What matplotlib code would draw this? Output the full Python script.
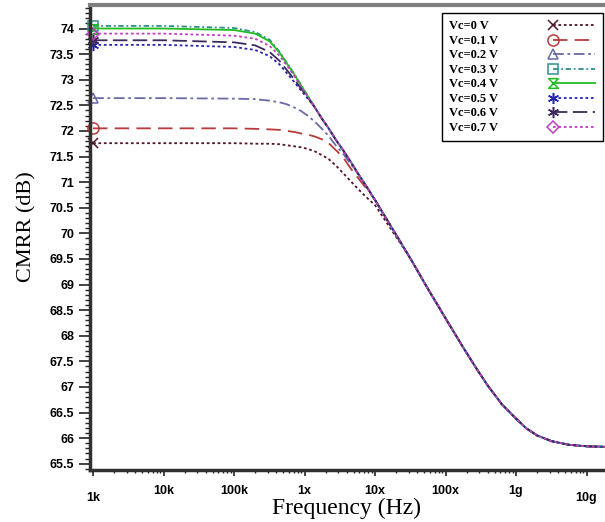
import matplotlib
matplotlib.use('Agg')
import matplotlib.pyplot as plt
from matplotlib.lines import Line2D
from matplotlib.path import Path
from matplotlib.legend_handler import HandlerLine2D
from matplotlib.font_manager import FontProperties
from matplotlib.ticker import FixedLocator, LogLocator, MultipleLocator, NullFormatter

# ---------------- data ----------------
freq_hz = [1e3, 1e4, 1e5, 2e5, 3.2e5, 4.4e5, 5.6e5, 7.1e5, 8.9e5, 1.1e6,
           1.4e6, 1.8e6, 2.2e6, 2.8e6, 3.5e6, 4.5e6, 5.9e6, 7.6e6, 1e7, 1.8e7,
           3.2e7, 5.6e7, 1e8, 1.8e8, 2.8e8, 4e8, 6.3e8, 1e9, 1.4e9, 2e9,
           3.2e9, 5.6e9, 1e10, 1.8e10]

# shared high-frequency part (from the 11th frequency point onwards)
tail_db = [72.46, 72.22, 72.05, 71.82, 71.63, 71.40, 71.14, 70.91, 70.65, 70.07,
           69.50, 68.92, 68.34, 67.76, 67.34, 67.02, 66.66, 66.38, 66.19, 66.05,
           65.94, 65.87, 65.84, 65.83]
TAIL_START = 10

head_vc00 = [71.76, 71.76, 71.76, 71.75, 71.75, 71.74, 71.72, 71.70, 71.68, 71.65,
             71.60, 71.52, 71.45, 71.32, 71.18, 71.02, 70.85, 70.70, 70.55, 70.02]
head_vc01 = [72.05, 72.05, 72.05, 72.04, 72.03, 72.02, 72.00, 71.98, 71.95, 71.93,
             71.89, 71.83, 71.76, 71.62, 71.49, 71.27, 71.06, 70.87]
head_vc02 = [72.64, 72.64, 72.63, 72.62, 72.59, 72.56, 72.52, 72.46, 72.39, 72.30,
             72.18, 72.03, 71.90, 71.71, 71.56, 71.36]
head_vc03 = [74.05, 74.05, 74.01, 73.93, 73.78, 73.55, 73.33, 73.12, 72.90, 72.69]
head_vc04 = [74.00, 74.00, 73.97, 73.90, 73.75, 73.53, 73.32, 73.11, 72.89, 72.69]
head_vc05 = [73.68, 73.68, 73.64, 73.58, 73.46, 73.30, 73.13, 72.96, 72.79, 72.64]
head_vc06 = [73.77, 73.77, 73.73, 73.67, 73.54, 73.37, 73.19, 73.01, 72.83, 72.66]
head_vc07 = [73.90, 73.90, 73.86, 73.80, 73.66, 73.47, 73.28, 73.08, 72.87, 72.68]

labels = ['Vc=0 V', 'Vc=0.1 V', 'Vc=0.2 V', 'Vc=0.3 V',
          'Vc=0.4 V', 'Vc=0.5 V', 'Vc=0.6 V', 'Vc=0.7 V']
heads = [head_vc00, head_vc01, head_vc02, head_vc03,
         head_vc04, head_vc05, head_vc06, head_vc07]

x_tick_vals = [1e3, 1e4, 1e5, 1e6, 1e7, 1e8, 1e9, 1e10]
x_tick_labels = ['1k', '10k', '100k', '1x', '10x', '100x', '1g', '10g']
y_tick_vals = [65.5, 66, 66.5, 67, 67.5, 68, 68.5, 69, 69.5, 70, 70.5,
               71, 71.5, 72, 72.5, 73, 73.5, 74]


def full_series(head):
    return head + tail_db[len(head) - TAIL_START:]


# ---------------- styles ----------------
hourglass = Path([(-1, 1), (1, 1), (-1, -1), (1, -1), (-1, 1)],
                 [Path.MOVETO, Path.LINETO, Path.LINETO, Path.LINETO, Path.CLOSEPOLY])

styles = [
    dict(color='#4f1428', ls=(0, (1.5, 1.5)), marker='x', ms=7),
    dict(color='#b83a3a', ls=(0, (8, 4)), marker='o', ms=8),
    dict(color='#6a6aa8', ls=(0, (6, 2, 1.5, 2)), marker='^', ms=7),
    dict(color='#2f8f8f', ls=(0, (3, 1.5, 1, 1.5)), marker='s', ms=7),
    dict(color='#22bb22', ls='-', marker=hourglass, ms=7),
    dict(color='#2424b0', ls=(0, (1.5, 1.5)), marker=(6, 2, 0), ms=8),
    dict(color='#3c2a5e', ls=(0, (8, 3)), marker=(6, 2, 0), ms=8),
    dict(color='#c23cc2', ls=(0, (1.5, 1.5)), marker='D', ms=6),
]

# ---------------- figure ----------------
W, H = 605, 522
fig = plt.figure(figsize=(W / 100, H / 100), dpi=100)
ax = fig.add_axes([90 / W, (H - 470) / H, (W - 90) / W, 465 / H])

for head, lab, st in zip(heads, labels, styles):
    ax.plot(freq_hz, full_series(head), color=st['color'], linestyle=st['ls'],
            linewidth=1.3, marker=st['marker'], markersize=st['ms'],
            markevery=[0], markerfacecolor='none', markeredgecolor=st['color'],
            markeredgewidth=1.1, label=lab, clip_on=False)

ax.set_xscale('log')
ax.set_xlim(10 ** 2.957, 10 ** 10.262)
ax.set_ylim(65.377, 74.459)

tick_font = dict(family=['Liberation Sans', 'DejaVu Sans'], weight='bold', size=9)
ax.xaxis.set_major_locator(FixedLocator(x_tick_vals))
ax.set_xticklabels(x_tick_labels, **tick_font)
ax.xaxis.set_minor_locator(LogLocator(base=10, subs=[2, 3, 4, 5, 6, 7, 8, 9], numticks=20))
ax.xaxis.set_minor_formatter(NullFormatter())
ax.yaxis.set_major_locator(FixedLocator(y_tick_vals))
ax.set_yticklabels([('%g' % v) for v in y_tick_vals], **tick_font)
ax.yaxis.set_minor_locator(MultipleLocator(0.1))

ax.tick_params(axis='x', which='major', direction='out', length=4, width=1.2, pad=6.5, color='#222222')
ax.tick_params(axis='x', which='minor', direction='out', length=2.5, width=1, color='#222222')
ax.tick_params(axis='y', which='major', direction='out', length=8, width=1.2, pad=3.5, color='#222222')
ax.tick_params(axis='y', which='minor', direction='out', length=3.5, width=1, color='#222222')

xt = ax.xaxis.get_major_ticks()
xt[0].set_pad(11.5)
xt[-1].set_pad(11.5)

for s in ('left', 'bottom'):
    ax.spines[s].set_linewidth(2.5)
    ax.spines[s].set_color('#303030')
ax.spines['top'].set_linewidth(3)
ax.spines['top'].set_color('#808080')
ax.spines['right'].set_visible(False)

label_font = dict(family=['Liberation Serif', 'DejaVu Serif'])
ax.set_xlabel('Frequency (Hz)', fontsize=17, va='top', **label_font)
ax.xaxis.set_label_coords((346 - 90) / 515, (470 - 497.5) / 465)
ax.set_ylabel('CMRR (dB)', fontsize=16, va='center', **label_font)
ax.yaxis.set_label_coords((27 - 90) / 515, (470 - 227) / 465)


class LeftMarkerHandler(HandlerLine2D):
    def create_artists(self, legend, orig_handle, xdescent, ydescent, width,
                       height, fontsize, trans):
        arts = super().create_artists(legend, orig_handle, xdescent, ydescent,
                                      width, height, fontsize, trans)
        for a in arts:
            a.set_markevery([0])
            a.set_clip_on(False)
        return arts


leg = ax.legend(loc='upper right', bbox_to_anchor=(0.996, 0.983),
                borderaxespad=0.0, markerfirst=False,
                prop=FontProperties(family='Liberation Serif', weight='bold', size=9),
                frameon=True, fancybox=False, edgecolor='black', framealpha=1,
                borderpad=0.6, labelspacing=0.2, handlelength=3.4,
                handletextpad=1.0, numpoints=1,
                handler_map={Line2D: LeftMarkerHandler()})
leg.get_frame().set_linewidth(1.0)
for col in leg._legend_handle_box.get_children():
    col.align = 'left'
    for row in col.get_children():
        row.mode = 'expand'
        row.width = 146

fig.savefig('out.png', dpi=100)
